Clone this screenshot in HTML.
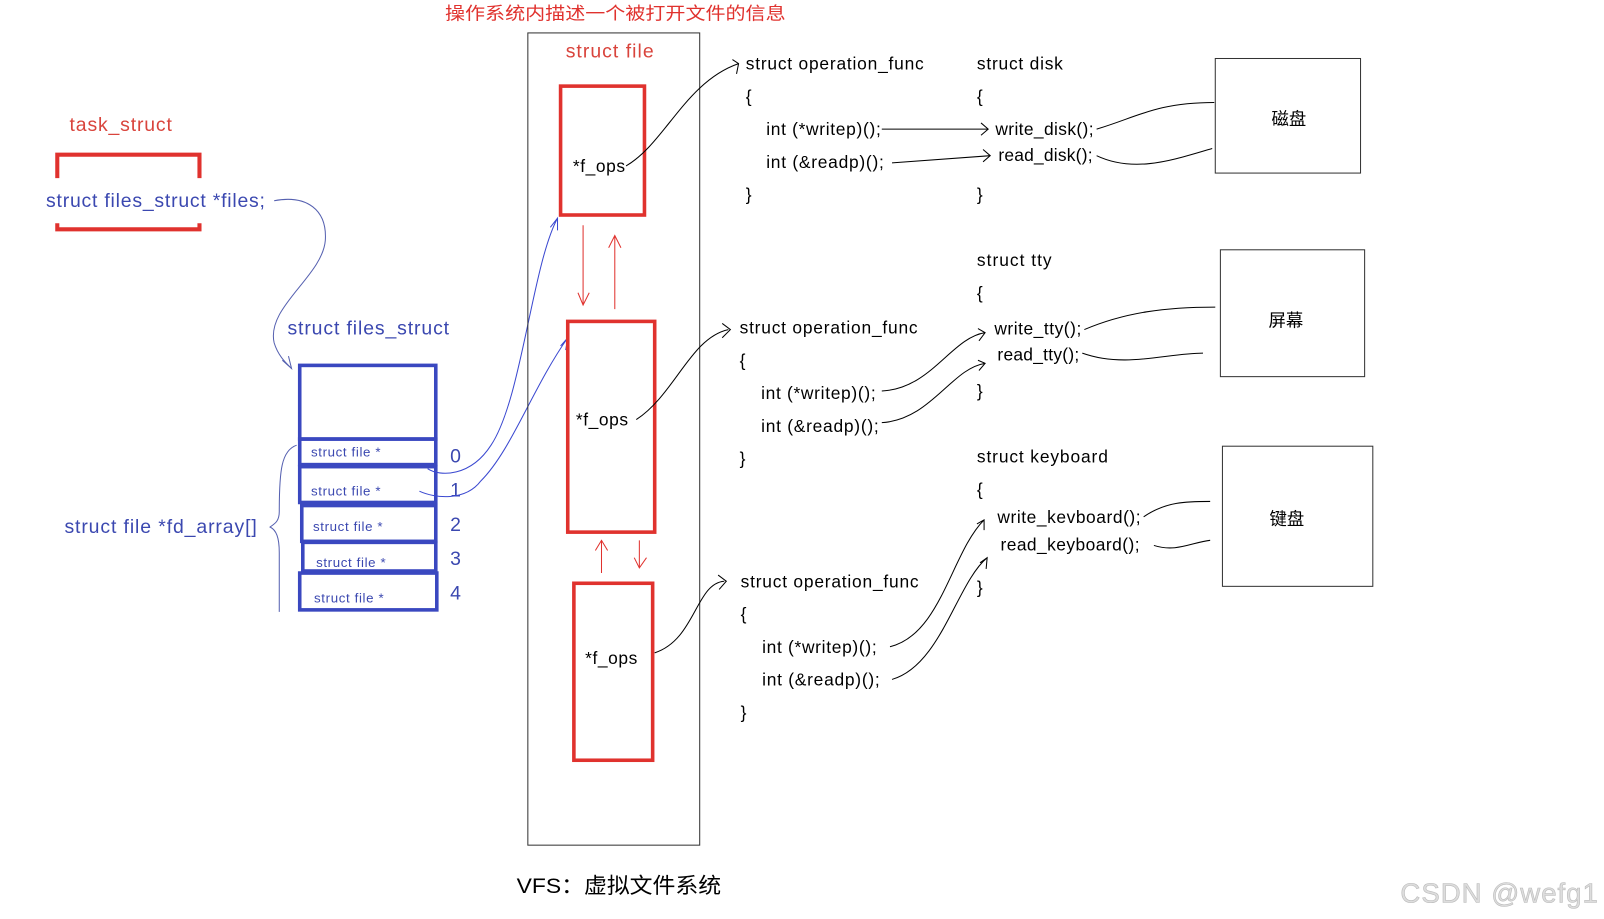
<!DOCTYPE html>
<html><head><meta charset="utf-8"><style>
html,body{margin:0;padding:0;background:#fff;width:1604px;height:919px;overflow:hidden}
svg{display:block}
text{font-family:"Liberation Sans","Noto Sans CJK SC",sans-serif}
</style></head><body>
<svg width="1604" height="919" viewBox="0 0 1568 898" xmlns="http://www.w3.org/2000/svg">
<g font-size="17">
<text x="435" y="19" fill="#e0322e" font-size="17" textLength="333" lengthAdjust="spacingAndGlyphs">操作系统内描述一个被打开文件的信息</text>
<text x="68" y="128" fill="#d9443c" font-size="19" textLength="100">task_struct</text>
<path d="M56 174 V151 H195 V174 M56 218 V224 H195 V218" fill="none" stroke="#e0322e" stroke-width="4"/>
<text x="45" y="202" fill="#3b48b0" font-size="19" textLength="214">struct files_struct *files;</text>
<path d="M268 196 C300 190 320 205 318 235 C315 270 260 300 268 335 C272 348 280 355 285 360" fill="none" stroke="#5560b0" stroke-width="1"/>
<path d="M276 352 L285 360 L282 348" fill="none" stroke="#5560b0" stroke-width="1"/>
<text x="281" y="327" fill="#3b48b0" font-size="19" textLength="158">struct files_struct</text>
<g fill="none" stroke="#3a48c0" stroke-width="3.5">
<rect x="293" y="357" width="133" height="72"/>
<rect x="293" y="429" width="133" height="25"/>
<rect x="293" y="456" width="133" height="35"/>
<rect x="295" y="494" width="131" height="35"/>
<rect x="296" y="530" width="130" height="28"/>
<rect x="293" y="560" width="134" height="36"/>
</g>
<g fill="#3b48b0" font-size="13">
<text x="304" y="446" textLength="68">struct file *</text>
<text x="304" y="484" textLength="68">struct file *</text>
<text x="306" y="519" textLength="68">struct file *</text>
<text x="309" y="554" textLength="68">struct file *</text>
<text x="307" y="589" textLength="68">struct file *</text>
</g>
<g fill="#3b48b0" font-size="19">
<text x="440" y="452">0</text><text x="440" y="485">1</text><text x="440" y="519">2</text><text x="440" y="552">3</text><text x="440" y="586">4</text>
</g>
<text x="63" y="521" fill="#3b48b0" font-size="19" textLength="188">struct file *fd_array[]</text>
<path d="M290 435 C275 440 273 460 273 500 C273 510 268 512 264 515 C270 518 273 525 273 540 L273 598" fill="none" stroke="#5560b0" stroke-width="1"/>
<path d="M418 458 C430 466 460 466 480 435 C510 390 520 260 545 213 M538 222 L545 213 L545 225" fill="none" stroke="#3a48d0" stroke-width="1"/>
<path d="M410 480 C425 487 455 490 470 470 C500 440 520 380 555 330 M548 338 L555 330 L553 342" fill="none" stroke="#3a48d0" stroke-width="1"/>
<rect x="516" y="32" width="168" height="794" fill="none" stroke="#333" stroke-width="1"/>
<text x="553" y="56" fill="#d9443c" font-size="19" textLength="86">struct file</text>
<g fill="none" stroke="#e0322e" stroke-width="3.5">
<rect x="548" y="84" width="82" height="126"/>
<rect x="555" y="314" width="85" height="206"/>
<rect x="561" y="570" width="77" height="173"/>
</g>
<g fill="#000" font-size="17">
<text x="560" y="168" textLength="51">*f_ops</text>
<text x="563" y="416" textLength="51">*f_ops</text>
<text x="572" y="649" textLength="51">*f_ops</text>
</g>
<g fill="none" stroke="#e0322e" stroke-width="1">
<path d="M570 220 V298 M565 286 L570 298 L576 286"/>
<path d="M601 302 V230 M595 242 L601 230 L607 242"/>
<path d="M588 560 V528 M582 538 L588 528 L594 538"/>
<path d="M625 528 V555 M620 545 L625 555 L632 545"/>
</g>
<g fill="none" stroke="#000" stroke-width="1">
<path d="M612 162 C650 140 670 80 722 62 M716 58 L722 62 L720 72"/>
<path d="M622 410 C660 385 675 330 712 322 M706 316 L714 322 L706 330"/>
<path d="M640 638 C680 625 680 570 708 568 M702 562 L710 568 L703 576"/>
</g>
<text x="729" y="68" textLength="174">struct operation_func</text>
<text x="729" y="100">{</text>
<text x="749" y="132" textLength="112">int (*writep)();</text>
<text x="749" y="164" textLength="115">int (&amp;readp)();</text>
<text x="729" y="196">}</text>
<text x="955" y="68" textLength="84">struct disk</text>
<text x="955" y="100">{</text>
<text x="973" y="132" textLength="96">write_disk();</text>
<text x="976" y="157" textLength="92">read_disk();</text>
<text x="955" y="196">}</text>
<g fill="none" stroke="#000" stroke-width="1">
<path d="M862 126 H966 M959 120 L966 126 L959 132"/>
<path d="M872 159 L968 152 M961 146 L968 152 L961 158"/>
<path d="M1072 126 C1110 115 1130 100 1187 100"/>
<path d="M1072 152 C1110 170 1150 155 1185 145"/>
</g>
<rect x="1188" y="57" width="142" height="112" fill="none" stroke="#333" stroke-width="1"/>
<text x="1243" y="122">磁盘</text>
<text x="723" y="326" textLength="174">struct operation_func</text>
<text x="723" y="358">{</text>
<text x="744" y="390" textLength="112">int (*writep)();</text>
<text x="744" y="422" textLength="115">int (&amp;readp)();</text>
<text x="723" y="454">}</text>
<text x="955" y="260" textLength="73">struct tty</text>
<text x="955" y="292">{</text>
<text x="972" y="327" textLength="85">write_tty();</text>
<text x="975" y="352" textLength="80">read_tty();</text>
<text x="955" y="388">}</text>
<g fill="none" stroke="#000" stroke-width="1">
<path d="M862 382 C910 380 930 330 963 325 M956 321 L963 325 L957 333"/>
<path d="M862 413 C910 410 930 360 963 355 M956 352 L963 355 L957 362"/>
<path d="M1060 322 C1100 305 1140 300 1188 300"/>
<path d="M1058 345 C1100 360 1140 345 1176 345"/>
</g>
<rect x="1193" y="244" width="141" height="124" fill="none" stroke="#333" stroke-width="1"/>
<text x="1240" y="319">屏幕</text>
<text x="724" y="574" textLength="174">struct operation_func</text>
<text x="724" y="606">{</text>
<text x="745" y="638" textLength="112">int (*writep)();</text>
<text x="745" y="670" textLength="115">int (&amp;readp)();</text>
<text x="724" y="702">}</text>
<text x="955" y="452" textLength="128">struct keyboard</text>
<text x="955" y="484">{</text>
<text x="975" y="511" textLength="140">write_kevboard();</text>
<text x="978" y="538" textLength="136">read_keyboard();</text>
<text x="955" y="580">}</text>
<g fill="none" stroke="#000" stroke-width="1">
<path d="M870 632 C920 620 930 540 962 508 M955 512 L962 508 L962 518"/>
<path d="M872 664 C920 650 935 570 965 545 M958 550 L965 545 L964 556"/>
<path d="M1118 505 C1140 490 1160 490 1183 490"/>
<path d="M1128 533 C1150 540 1165 530 1183 528"/>
</g>
<rect x="1195" y="436" width="147" height="137" fill="none" stroke="#333" stroke-width="1"/>
<text x="1241" y="513">键盘</text>
<text x="505" y="873" font-size="21" textLength="200" lengthAdjust="spacingAndGlyphs">VFS：虚拟文件系统</text>
<text x="1369" y="882" font-size="27" fill="#ddd" stroke="#bbb" stroke-width="0.6" textLength="193">CSDN @wefg1</text>
</g>
</svg>
</body></html>
